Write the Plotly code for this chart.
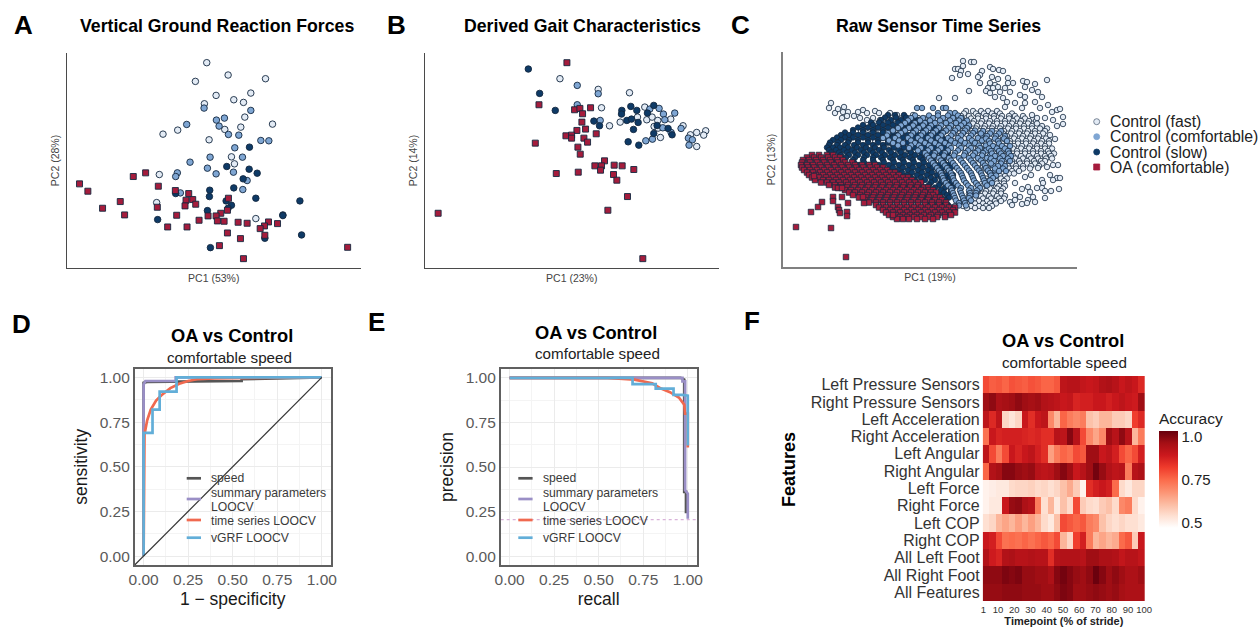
import plotly.graph_objects as go

W, H = 1259, 629
FONT = "Liberation Sans"
C_FAST, C_COMF, C_SLOW, C_OA = "#e3ebf5", "#7fa6d3", "#0e3a66", "#a51c3c"
C_SPEED, C_SUMM, C_TS, C_VGRF = "#555555", "#9a8fc6", "#f0694f", "#62aed8"
SERIES = ["Control (fast)", "Control (comfortable)", "Control (slow)", "OA (comfortable)"]

# ---------- Panel A (PC scores, arbitrary units) ----------
A_fast_x = [420,484,386,596,552,448,501,530,413,534,522,474,617,333,289,427,494,503,278,270,567]
A_fast_y = [615,578,559,567,524,517,504,496,492,452,422,415,431,413,401,384,333,312,280,196,148]
A_comf_x = [412,552,449,473,457,360,485,516,582,606,504,430,527,370,422,332,327,448,500,541,528,341]
A_comf_y = [479,472,443,449,425,430,400,398,382,381,360,332,332,317,299,285,274,282,287,262,235,225]
A_slow_x = [548,480,547,571,529,501,429,327,428,567,478,494,484,699,422,648,648,273,594,704,431]
A_slow_y = [362,304,296,284,267,240,233,223,214,209,201,188,179,201,172,159,157,145,89,99,61]
A_oa_x = [39,64,200,237,275,326,366,161,108,174,272,358,378,387,355,485,482,462,448,424,330,397,452,472,514,541,605,632,593,580,303,361,482,521,594,458,530,842]
A_oa_y = [252,230,274,285,245,232,223,199,179,159,182,203,205,191,186,209,173,164,156,156,158,143,141,140,137,134,138,133,126,118,123,123,105,88,98,67,28,62]

# ---------- Panel B ----------
B_fast_x = [407,522,616,532,662,556,588,640,668,684,701,740,690,709,777,799,818,845,839,818,702]
B_fast_y = [567,535,525,480,482,426,437,452,444,452,442,446,424,391,426,399,406,411,398,364,419]
B_comf_x = [459,522,459,528,677,705,718,752,722,716,741,771,665,685,793,805,795]
B_comf_y = [547,522,489,442,476,478,461,464,444,420,406,418,381,386,389,384,368]
B_slow_x = [312,346,393,593,620,638,592,670,689,509,526,608,622,642,628,699,732,744,689,612,644]
B_slow_y = [596,523,472,472,484,472,461,464,487,440,426,442,446,436,415,427,418,399,403,378,368]
B_oa_x = [428,344,451,467,499,475,473,484,458,425,442,442,479,490,516,333,461,468,541,570,594,512,532,529,629,462,396,568,578,610,551,41,656]
B_oa_y = [615,489,474,478,480,462,437,416,412,396,398,389,389,377,402,374,362,341,321,308,306,306,306,293,295,287,283,280,263,214,173,164,28]

# ---------- Panel C: read row by row (PC2 level -> PC1 scores) ----------
C_fast_scatter_x = [180,180,188,191,172,175,178,177,185,169,207,210,216,220,199,197,195,215,209,225,230,225,240,244,264,252,197,207,212,205,210,215,222,203,207,186,217,227,242,249,255,212,237,242,220,224,259,172,156,232,242,252,222,265,239,257,274,277,269,249,254,262,280,270,280,274,267,272,275,270,264,267,274,259,270,277,260,259,254,245,239,247,262,268,276,232,237,227,232,229,239,245,250,252,262,244,232,248,242,255,48,46,52,55,61,60,65,59,64,71,75,80,84,92,96,77,84,90,97,107,114,124,130,135,142]
C_fast_scatter_y = [206,201,205,205,198,198,196,192,193,189,200,198,197,196,196,192,190,188,190,189,184,184,186,185,187,183,184,184,182,179,179,180,179,176,174,176,175,175,180,177,175,170,172,170,169,165,170,169,169,164,164,165,160,162,159,159,157,158,155,152,149,149,150,147,143,141,132,128,102,102,100,92,89,87,87,89,84,79,79,80,78,75,76,76,78,72,70,65,67,62,63,67,70,65,69,64,84,92,90,99,164,159,154,158,160,155,155,149,151,151,155,157,154,156,154,149,147,149,147,154,152,149,152,149,147]
C_fast_rows = {
    156: [183,190,198,205,214],
    153.5: [181,193,201,209,217,229],
    151: [178,186,195,203,211,219,226,232,240],
    148.5: [104,118,128,136,143,152,162,170,179,188,195,203,211,218,226,234,242,250],
    146: [100,112,122,131,139,147,158,166,174,183,191,199,207,214,222,230,238,246,253],
    143.5: [92,103,113,124,133,143,155,164,173,181,190,198,206,214,222,229,237,245,254],
    141: [88,98,107,118,128,137,151,160,168,177,186,194,202,210,218,226,233,241,249,259],
    138.5: [83,95,108,120,131,144,157,167,176,185,193,201,209,217,225,233,241,249,257,264],
    136: [78,91,102,113,125,148,163,172,180,189,197,205,213,221,229,237,245,252,262],
    133.5: [88,100,116,130,142,153,171,180,188,197,205,213,220,228,236,244,252,260],
    131: [84,96,110,122,136,158,176,184,193,201,209,217,224,232,240,248,256],
    128.5: [97,114,131,150,166,181,191,199,207,215,223,231,239,247,255,263],
    126: [92,106,126,145,170,186,196,203,211,219,227,235,243,251,259,266],
    123.5: [105,124,148,176,185,195,203,211,219,227,235,243,250,258,266],
    121: [100,118,140,180,190,199,207,215,223,231,239,247,254,262],
    118.5: [122,142,183,190,198,206,215,222,230,238,246,254,262,269],
    116: [110,132,185,194,202,211,219,226,234,242,250,258,265],
    113.5: [135,160,188,195,203,211,218,226,234,242,250,258,266,271],
    111: [125,150,190,199,207,215,222,230,238,246,254,262,268],
    108.5: [192,202,210,217,225,232,240,248,255,263,269],
    106: [198,206,213,221,229,236,244,251,258,262],
    103.5: [196,204,213,221,229,237,244,252,259],
    101: [200,209,217,225,233,240,248,256],
    98.5: [202,210,218,226,233,240,247],
    96: [205,213,221,229,236],
    93.5: [207,214,220,226,231],
    91: [209,217,222],
    88.5: [203,211,218,224],
    86: [205,213,221],
    83.5: [199,207,214,221],
    81: [200,208,216,222],
    78.5: [192,199,207,214,220],
    76: [195,203,211,218],
    73.5: [186,194,202,210,218],
    71: [190,198,206,214,222],
    68.5: [183,192,200,208,216,221],
    66: [180,188,196,204,212,218],
    63.5: [176,184,192,200,207,213],
    61: [172,180,188,196,203,209],
    59: [184,192,200,206],
}
C_comf_rows = {
    159: [134,139,150,160,163],
    154: [155,167,172],
    151.5: [132,146,155,165,175],
    149: [128,140,150,160,170,178],
    146.5: [125,137,147,157,167,176,184],
    144: [122,132,142,152,163,173,181],
    141.5: [118,130,140,148,158,168,178,186],
    139: [115,126,136,146,156,166,175,184],
    136.5: [110,122,133,143,153,163,172,182,192],
    134: [105,118,130,140,150,160,170,180,190],
    131.5: [104,115,128,138,148,158,168,178,188,198],
    129: [100,112,125,135,145,155,165,175,186,195],
    126.5: [106,116,128,138,148,158,168,178,189,199],
    124: [110,120,132,142,152,162,172,182,192],
    121.5: [115,128,136,146,156,166,176,186,196,203],
    119: [126,138,148,158,168,178,188,197],
    116.5: [135,145,155,165,175,185,195,203],
    114: [142,152,162,172,182,192,200],
    111.5: [144,151,161,171,181,190,199,207],
    109: [146,156,166,176,186,195,204],
    106.5: [148,158,168,178,188,198,207],
    104: [150,160,170,180,190,200],
    101.5: [152,162,172,182,192,202,210],
    99: [154,164,174,184,194,203],
    96.5: [156,166,176,186,196,205,212],
    94: [158,168,178,188,198,207],
    91.5: [159,169,179,189,199,208,213],
    89: [160,170,180,190,200,210],
    86.5: [161,171,181,191,201,207],
    84: [163,173,183,193,202,209],
    81.5: [165,175,185,195,204],
    79: [168,178,188,197],
    76.5: [169,177,186,194],
    74: [170,178,187,193],
    71.5: [171,179,187,193],
    69: [172,180,186],
    66.5: [173,181,188],
    64: [176,182],
    61.5: [176,183],
}
C_comf_right_rows = {
    136: [200,209,218],
    133.5: [198,207,216],
    131: [204,213,222],
    128.5: [203,212,221],
    126: [206,215,224],
    123.5: [207,216],
    121: [210,219,227],
    118.5: [206,214,222],
    116: [208,216,225],
    113.5: [209,218,226],
    111: [212,220,228],
    108.5: [208,217,225],
    106: [211,219,227],
    103.5: [208,218],
    101: [215,222],
    98.5: [212,220],
    96: [216,223],
}
C_slow_rows = {
    152: [105,112,121],
    149.5: [102,113,123,131],
    147: [98,108,118,128,135],
    144.5: [88,96,105,115,125,135,143],
    142: [80,90,100,110,120,130,140,146],
    139.5: [75,85,95,105,115,125,135,145,152],
    137: [70,80,90,100,110,120,130,140,150,156],
    134.5: [62,70,80,90,100,110,120,130,140,150,158],
    132: [58,66,75,85,95,105,115,125,135,145,155],
    129.5: [54,62,70,80,90,100,110,120,130,140,150,159],
    127: [50,58,66,75,85,95,105,115,125,135,145,155,162],
    124.5: [47,55,65,75,85,95,105,115,125,135,145,155,163],
    122: [46,54,62,71,80,90,100,110,120,130,140,150,160],
    119.5: [44,50,57,65,74,83,92,101,111,121,131,141,151,161],
    117: [46,53,61,69,78,87,96,106,116,126,136,146,156],
    114.5: [48,56,64,72,81,90,99,108,118,128,138,148,158,165],
    112: [50,58,66,75,84,93,102,112,122,132,142,152,162],
    109.5: [55,63,72,81,90,98,107,117,127,137,147,157,166],
    107: [52,60,70,80,90,100,110,120,130,140,150,160],
    104.5: [60,71,81,91,101,111,121,131,141,151,161,168],
    102: [66,76,86,96,106,116,126,136,146,156,165],
    99.5: [76,90,100,110,120,130,140,150,160,168],
    97: [85,95,105,115,125,135,145,155,165],
    94.5: [90,100,109,119,129,139,149,159,167],
    92: [95,104,114,124,134,144,154,164,170],
    89.5: [100,108,118,128,138,148,158,167],
    87: [104,112,122,132,142,152,162,170],
    84.5: [110,118,128,138,148,158,168],
    82: [116,126,136,146,156,166],
    79.5: [122,132,142,152,162,170],
    77: [128,138,148,158,168],
    74.5: [134,142,152,161,168],
    72: [138,146,156,164],
    69.5: [142,150,158,166],
    67: [146,154,162],
    64.5: [148,156,163],
    62: [150,158,165],
    59.5: [154,161,167],
}
C_oa_rows = {
    112: [29,36,44,50],
    109.5: [24,31,38,45,52,57],
    107: [20,26,33,40,47,54,60],
    104.5: [19,27,34,41,48,55,62,69],
    102: [18,24,30,37,44,51,58,65,72,79,86,92],
    99.5: [19,25,31,38,45,52,59,66,73,80,87,94,100],
    97: [21,27,34,41,48,55,62,69,76,83,90,97,104],
    94.5: [24,30,37,44,51,58,65,72,79,86,93,100,107,112],
    92: [26,33,40,47,54,61,68,75,82,89,96,103,110,116],
    89.5: [29,36,43,50,57,64,71,78,85,92,99,106,113,120,125],
    87: [32,40,46,53,60,67,74,81,88,95,102,109,116,123,129],
    84.5: [38,44,50,56,63,70,77,84,91,98,105,112,119,126,132,138],
    82: [46,52,58,65,72,79,86,93,100,107,114,121,128,135],
    79.5: [52,58,64,71,78,85,92,99,106,113,120,127,134,141,145],
    77: [62,68,75,82,89,96,103,110,117,124,131,138,146,150],
    74.5: [66,72,79,86,93,100,107,114,121,128,135,142,148,153],
    72: [70,77,84,91,98,105,112,119,126,133,140,147,150],
    69.5: [76,83,90,97,104,111,118,125,132,139,146,153,157],
    67: [82,89,96,103,110,117,124,131,138,145,152,159],
    64.5: [86,93,100,107,114,121,128,135,142,149,156,163],
    62: [93,100,107,114,121,128,135,142,149,156,163],
    59.5: [96,103,110,117,124,131,138,145,152,159,166,172],
    57: [100,107,114,121,128,135,142,149,156,163,170],
    54.5: [103,110,117,124,131,138,145,152,159,166,172],
    52: [106,113,120,127,134,141,148,155,162,168],
    50: [110,117,124,131,138,146,154,162],
    48: [114,120,126,134,142,150],
}
C_oa_scatter_x = [31,55,59,50,50,39,35,28,55,56,57,64,64,65,81,80,13,48,63,110,59]
C_oa_scatter_y = [91,79,79,70,66,65,60,55,60,57,54,55,51,64,64,70,40,39,10,52,70]

def expand(rows):
    xs, ys = [], []
    for level, scores in rows.items():
        for s in scores:
            xs.append(s)
            ys.append(level)
    return xs, ys

# ---------- Panel D ----------
D_speed_x = [0,0,0.02,0.55,0.55,1]
D_speed_y = [0,0.97,0.975,0.98,0.99,1]
D_summ_x = [0,0,0.01,0.18,0.18,1]
D_summ_y = [0,0.96,0.98,0.98,1,1]
D_ts_x = [0,0.002,0.005,0.02,0.04,0.07,0.1,0.15,0.2,0.25,0.3,0.4,1]
D_ts_y = [0,0.5,0.68,0.76,0.82,0.87,0.9,0.94,0.965,0.98,0.99,0.995,1]
D_vgrf_x = [0,0,0.05,0.05,0.09,0.09,0.185,0.185,1]
D_vgrf_y = [0,0.69,0.69,0.82,0.82,0.92,0.92,1,1]
D_diag = [-0.05,1]

# ---------- Panel E ----------
E_speed_x = [0,0.96,0.98,0.98,0.99,0.99]
E_speed_y = [1,1,0.99,0.36,0.36,0.24]
E_summ_x = [0,0.97,0.97,0.985,0.985,1,1]
E_summ_y = [1,1,0.98,0.98,0.37,0.35,0.21]
E_ts_x = [0,0.55,0.7,0.8,0.85,0.9,0.95,0.98,0.985,1,1]
E_ts_y = [1,1,0.99,0.97,0.94,0.92,0.89,0.85,0.8,0.8,0.61]
E_vgrf_x = [0,0.69,0.69,0.82,0.82,0.92,0.92,0.97,1,1]
E_vgrf_y = [1,1,0.965,0.965,0.94,0.94,0.905,0.905,0.9,0.62]
E_baseline_x = [-0.05,1.05]
E_baseline_y = [0.205,0.205]

# ---------- Panel F ----------
F_features = ["Left Pressure Sensors","Right Pressure Sensors","Left Acceleration","Right Acceleration",
              "Left Angular","Right Angular","Left Force","Right Force","Left COP","Right COP",
              "All Left Foot","All Right Foot","All Features"]
F_time = [2.5,6.5,10.5,14.5,18.5,22.5,26.5,30.5,34.5,38.5,42.5,46.5,50.5,54.5,58.5,62.5,66.5,70.5,74.5,78.5,82.5,86.5,90.5,94.5,98.5]
F_acc = [
 [.80,.77,.78,.76,.79,.78,.77,.79,.78,.76,.76,.78,.92,.93,.93,.91,.90,.91,.94,.95,.93,.90,.92,.90,.86],
 [.97,.99,.95,.96,.97,.99,.97,.96,.97,.94,.93,.92,.90,.91,.87,.88,.88,.90,.90,.88,.90,.92,.90,.89,.97],
 [.92,.86,.92,.56,.53,.56,.90,.85,.90,.92,.70,.62,.76,.72,.70,.72,.60,.58,.62,.62,.58,.58,.56,.82,.86],
 [.74,.90,.87,.88,.88,.88,.87,.86,.87,.85,.85,.93,.92,1.0,.93,.80,.70,.65,.70,.97,.93,.99,.93,.62,.72],
 [.92,.80,.72,.80,.90,.87,.90,.92,.88,.85,.66,.72,.76,.74,.80,.78,.97,.97,.90,.92,.88,.80,.76,.80,.88],
 [.76,.94,.96,1.0,1.0,.98,.97,.98,.93,.92,.93,.97,1.0,.97,.90,.93,.97,1.02,.98,.94,.92,.93,.72,.93,.95],
 [.50,.51,.52,.52,.55,.56,.56,.57,.55,.56,.54,.56,.60,.64,.58,.50,.85,.88,.90,.88,.75,.55,.52,.56,.56],
 [.50,.52,.52,.90,.98,.99,.95,.93,.72,.54,.62,.52,.60,.55,.80,.58,.55,.54,.58,.60,.55,.70,.72,.55,.50],
 [.54,.56,.62,.65,.62,.66,.62,.66,.62,.55,.52,.60,.80,.78,.76,.78,.72,.70,.60,.56,.54,.56,.54,.54,.52],
 [.90,.88,.80,.74,.75,.74,.76,.74,.76,.78,.76,.80,.62,.56,.82,.88,.72,.62,.65,.62,.64,.75,.78,.58,.90],
 [.94,.89,.87,.94,.95,.93,.93,.94,.93,.93,.85,.93,.94,.94,.94,.93,.97,.97,.95,.95,.94,.91,.93,.93,.91],
 [.99,.99,.99,1.01,1.0,1.01,.98,.98,.97,.97,.95,1.0,1.02,1.0,.98,.97,.99,1.03,1.0,.97,.99,.97,.95,.95,.97],
 [.98,.98,.98,.99,.99,.99,.98,.98,.98,.97,.97,.99,1.01,1.0,.97,.97,.98,.99,.98,.97,.98,.96,.95,.95,.95],
]
F_ticks = [1,10,20,30,40,50,60,70,80,90,100]
REDS = ["#ffffff","#fee0d2","#fcbba1","#fc9272","#fb6a4a","#ef3b2c","#cb181d","#a50f15","#67000d"]

# ---------- helpers ----------
def dx(a, b): return [a / W, b / W]
def dy(top, bottom): return [1 - bottom / H, 1 - top / H]

fig = go.Figure()
annotations, shapes = [], []

def text(s, x, y, size, color="#000000", bold=False, anchor="center", angle=0):
    annotations.append(dict(text=s, x=x / W, y=1 - y / H, xref="paper", yref="paper", showarrow=False,
                            xanchor=anchor, yanchor="middle", textangle=angle, borderpad=0,
                            font=dict(family=FONT, size=size, color=color, weight=700 if bold else 400)))

def pts(ax, x, y, color, symbol="circle", size=6.5, lw=0.9, name=None):
    suffix = "" if ax == 1 else str(ax)
    fig.add_trace(go.Scatter(x=x, y=y, mode="markers", name=name, showlegend=False,
                             xaxis="x" + suffix, yaxis="y" + suffix,
                             marker=dict(color=color, symbol=symbol, size=size, line=dict(color="#14283f", width=lw))))

def curve(ax, x, y, color, width=2.7, dash="solid", name=None):
    suffix = str(ax)
    fig.add_trace(go.Scatter(x=x, y=y, mode="lines", name=name, showlegend=False,
                             xaxis="x" + suffix, yaxis="y" + suffix,
                             line=dict(color=color, width=width, dash=dash)))

# Panels A-C
pts(1, A_fast_x, A_fast_y, C_FAST, name=SERIES[0])
pts(1, A_comf_x, A_comf_y, C_COMF, name=SERIES[1])
pts(1, A_slow_x, A_slow_y, C_SLOW, name=SERIES[2])
pts(1, A_oa_x, A_oa_y, C_OA, "square", size=6, name=SERIES[3])
pts(2, B_fast_x, B_fast_y, C_FAST, name=SERIES[0])
pts(2, B_comf_x, B_comf_y, C_COMF, name=SERIES[1])
pts(2, B_slow_x, B_slow_y, C_SLOW, name=SERIES[2])
pts(2, B_oa_x, B_oa_y, C_OA, "square", size=6, name=SERIES[3])
sx, sy = expand(C_fast_rows)
pts(3, sx + C_fast_scatter_x, sy + C_fast_scatter_y, C_FAST, size=5.5, lw=0.8, name=SERIES[0])
sx, sy = expand(C_slow_rows)
pts(3, sx, sy, C_SLOW, size=5.5, lw=0.8, name=SERIES[2])
sx, sy = expand(C_comf_rows)
rx, ry = expand(C_comf_right_rows)
pts(3, sx + rx, sy + ry, C_COMF, size=5.5, lw=0.8, name=SERIES[1])
sx, sy = expand(C_oa_rows)
pts(3, sx + C_oa_scatter_x, sy + C_oa_scatter_y, C_OA, "square", size=5.5, lw=0.8, name=SERIES[3])

# Panels D-E
for xs, ys, c, label in [
    (D_speed_x, D_speed_y, C_SPEED, "speed"),
    (D_summ_x, D_summ_y, C_SUMM, "summary parameters LOOCV"),
    (D_ts_x, D_ts_y, C_TS, "time series LOOCV"),
    (D_vgrf_x, D_vgrf_y, C_VGRF, "vGRF LOOCV")]:
    curve(4, xs, ys, c, name=label)
curve(4, D_diag, D_diag, "#333333", width=1.2, name="chance")
curve(5, E_baseline_x, E_baseline_y, "#d9b3d9", width=1.2, dash="dot", name="baseline")
for xs, ys, c, label in [
    (E_speed_x, E_speed_y, C_SPEED, "speed"),
    (E_summ_x, E_summ_y, C_SUMM, "summary parameters LOOCV"),
    (E_ts_x, E_ts_y, C_TS, "time series LOOCV"),
    (E_vgrf_x, E_vgrf_y, C_VGRF, "vGRF LOOCV")]:
    curve(5, xs, ys, c, name=label)

# Panel F
fig.add_trace(go.Heatmap(z=F_acc, x=F_time, y=F_features, xaxis="x6", yaxis="y6",
                         zmin=0.47, zmax=1.035,
                         colorscale=[[i / 8, c] for i, c in enumerate(REDS)],
                         colorbar=dict(x=1159 / W, xanchor="left",
                                       y=1 - 528 / H, yanchor="bottom",
                                       lenmode="pixels", len=119, thickness=19, thicknessmode="pixels",
                                       outlinewidth=0, ticks="", xpad=0, ypad=0,
                                       tickvals=[0.5, 0.75, 1.0], ticktext=["0.5", "0.75", "1.0"],
                                       tickfont=dict(family=FONT, size=15, color="#222222"),
                                       title=dict(text="Accuracy", side="top",
                                                  font=dict(family=FONT, size=15.5, color="#222222")))))

# ---------- axes ----------
def pca_axes(n, left, right, top, bottom, xr, yr, xt, yt, color, lw):
    s = str(n) if n > 1 else ""
    common = dict(showgrid=False, zeroline=False, ticks="", showticklabels=False, showline=True,
                  linecolor=color, linewidth=lw)
    tf = dict(family=FONT, size=10.5, color="#444444")
    fig.layout["xaxis" + s] = dict(common, domain=dx(left, right), range=xr, anchor="y" + s,
                                   title=dict(text=xt, font=tf, standoff=6))
    fig.layout["yaxis" + s] = dict(common, domain=dy(top, bottom), range=yr, anchor="x" + s,
                                   title=dict(text=yt, font=tf, standoff=3))

pca_axes(1, 66.5, 361, 53, 268, [0, 882], [0, 644], "PC1 (53%)", "PC2 (28%)", "#4a4a4a", 1.3)
pca_axes(2, 424.5, 719, 53, 268, [0, 885], [0, 644], "PC1 (23%)", "PC2 (14%)", "#4a4a4a", 1.3)
pca_axes(3, 783, 1077, 52, 267, [0, 294], [0, 215], "PC1 (19%)", "PC2 (13%)", "#808080", 2)

TICKS01 = [0, 0.25, 0.5, 0.75, 1]
TICKTXT = ["0.00", "0.25", "0.50", "0.75", "1.00"]
def roc_axes(n, left, right, top, bottom, xt, yt):
    s = str(n)
    common = dict(range=[-0.05, 1.05], tickvals=TICKS01, ticktext=TICKTXT, ticks="",
                  showgrid=True, gridcolor="#ebebeb", gridwidth=1, zeroline=False,
                  minor=dict(tickvals=[0.125, 0.375, 0.625, 0.875], showgrid=True, gridcolor="#f4f4f4", gridwidth=0.7),
                  showline=True, mirror=True, linecolor="#606060", linewidth=1.5,
                  tickfont=dict(family=FONT, size=15.5, color="#5a5a5a"))
    tf = dict(family=FONT, size=17.5, color="#1a1a1a")
    fig.layout["xaxis" + s] = dict(common, domain=dx(left, right), anchor="y" + s, title=dict(text=xt, font=tf, standoff=5))
    fig.layout["yaxis" + s] = dict(common, domain=dy(top, bottom), anchor="x" + s, title=dict(text=yt, font=tf, standoff=8))

roc_axes(4, 134.7, 330.7, 368.5, 565, "1 − specificity", "sensitivity")
roc_axes(5, 500.7, 696.7, 369, 565, "recall", "precision")

fig.layout.xaxis6 = dict(domain=dx(982.7, 1145), anchor="y6", range=[0.5, 100.5], tickvals=F_ticks, ticks="",
                         showgrid=False, zeroline=False, showline=False, ticklabelstandoff=1, tickangle=0,
                         tickfont=dict(family=FONT, size=9.5, color="#333333"),
                         title=dict(text="<b>Timepoint (% of stride)</b>", standoff=3,
                                    font=dict(family=FONT, size=11, color="#222222")))
fig.layout.yaxis6 = dict(domain=dy(376, 601), anchor="x6", autorange="reversed", ticks="", showgrid=False,
                         zeroline=False, showline=False, tickfont=dict(family=FONT, size=16, color="#333333"),
                         ticklabelstandoff=2, tickmode="array", tickvals=F_features, ticktext=F_features,
                         categoryorder="array", categoryarray=F_features)

# ---------- text ----------
for s, x, y in [("A", 23.5, 25), ("B", 396, 25), ("C", 740, 25), ("D", 21.5, 324), ("E", 376, 322), ("F", 752, 321)]:
    text(s, x, y, 26, bold=True)
text("Vertical Ground Reaction Forces", 217, 26, 17.7, bold=True)
text("Derived Gait Characteristics", 582.7, 26, 17.7, bold=True)
text("Raw Sensor Time Series", 939, 26, 17.7, bold=True)
for cx, y1, cx2, y2 in [(232, 335, 229, 357), (595.7, 332, 597, 353), (1062.7, 340, 1064, 362)]:
    text("OA vs Control", cx, y1, 18.3, bold=True)
    text("comfortable speed", cx2, y2, 15.2, color="#222222")
text("Features", 789, 470, 18, bold=True, angle=-90)

# legend of panels A-C
for y, s, c, sym in zip([121.7, 136.7, 152, 167], SERIES, [C_FAST, C_COMF, C_SLOW, C_OA], ["c", "c", "c", "s"]):
    text(s, 1109.3, y, 15.8, color="#222222", anchor="left")
    r = 3
    shapes.append(dict(type="circle" if sym == "c" else "rect", xref="paper", yref="paper",
                       x0=(1096.7 - r) / W, x1=(1096.7 + r) / W, y0=1 - (y + r) / H, y1=1 - (y - r) / H,
                       fillcolor=c, line=dict(color="#5a6a7c" if c == C_FAST else c, width=0.8)))

# legends of panels D and E
for key_x, txt_x in [(186.7, 210), (518.3, 541.7)]:
    for y, c in zip([478.3, 499, 520, 537.7], [C_SPEED, C_SUMM, C_TS, C_VGRF]):
        shapes.append(dict(type="line", xref="paper", yref="paper", x0=key_x / W, x1=(key_x + 14.3) / W,
                           y0=1 - y / H, y1=1 - y / H, line=dict(color=c, width=2.7)))
    for y, s in [(478.3, "speed"), (493.3, "summary parameters"), (506.7, "LOOCV"),
                 (520.5, "time series LOOCV"), (538, "vGRF LOOCV")]:
        text(s, txt_x, y, 12.2, color="#3a3a3a", anchor="left")

fig.update_layout(width=W, height=H, autosize=False,
                  margin=dict(l=0, r=0, t=0, b=0, pad=0, autoexpand=False),
                  paper_bgcolor="#ffffff", plot_bgcolor="#ffffff", showlegend=False,
                  annotations=annotations, shapes=shapes)
fig.write_html("out.html", config={"displayModeBar": False}, post_script="document.body.style.margin='0';")
